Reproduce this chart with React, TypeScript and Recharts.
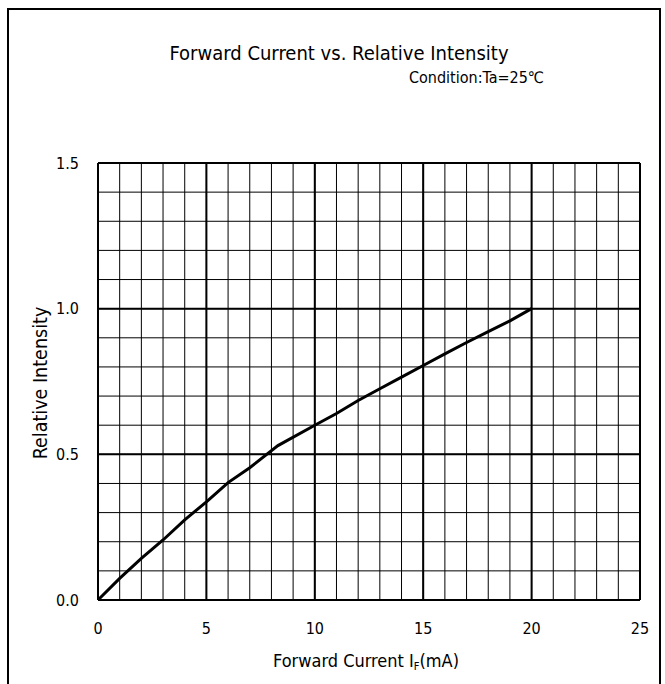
import React from 'react';
import { LineChart, Line, XAxis, YAxis, CartesianGrid, Customized } from 'recharts';

const current = [0, 1, 2, 3, 4, 5, 6, 7, 8.3, 10, 11, 12, 13, 14, 15, 16, 17, 18, 19, 20];
const intensity = [0, 0.074, 0.143, 0.206, 0.275, 0.337, 0.403, 0.454, 0.53, 0.6, 0.64, 0.685, 0.725, 0.765, 0.805, 0.845, 0.884, 0.921, 0.958, 1.0];

const xTicks = [0, 5, 10, 15, 20, 25];
const yTicks = [0, 0.5, 1.0, 1.5];
const xMinor = [0, 1, 2, 3, 4, 5, 6, 7, 8, 9, 10, 11, 12, 13, 14, 15, 16, 17, 18, 19, 20, 21, 22, 23, 24, 25];
const yMinor = [0, 0.1, 0.2, 0.3, 0.4, 0.5, 0.6, 0.7, 0.8, 0.9, 1.0, 1.1, 1.2, 1.3, 1.4, 1.5];

const title = 'Forward Current vs. Relative Intensity';
const condition = 'Condition:Ta=25℃';
const yLabel = 'Relative Intensity';

const data = current.map((c, i) => ({ current: c, intensity: intensity[i] }));

const FONT = "'DejaVu Sans Condensed', 'Liberation Sans Narrow', sans-serif";

const Decor = () => (
  <g fontFamily={FONT} fill="#000">
    <rect x={8} y={9} width={652} height={720} fill="none" stroke="#000" strokeWidth={2} />
    <text x={339} y={60} textAnchor="middle" fontSize={20}>{title}</text>
    <text x={544} y={83} textAnchor="end" fontSize={16}>{condition}</text>
    <text x={366} y={667} textAnchor="middle" fontSize={18}>
      Forward Current I<tspan fontSize={11} dy={3}>F</tspan><tspan dy={-3}>(mA)</tspan>
    </text>
    <text x={47} y={383} textAnchor="middle" fontSize={19.5} transform="rotate(-90 47 383)">{yLabel}</text>
  </g>
);

export default function App() {
  return (
    <div style={{ position: 'absolute', left: 0, top: 0, width: 665, height: 684, background: '#fff' }}>
      <LineChart width={665} height={684} data={data} margin={{ top: 163, right: 25, bottom: 44, left: 38 }}>
        <CartesianGrid stroke="#000" strokeWidth={1} verticalValues={xMinor} horizontalValues={yMinor} />
        <CartesianGrid stroke="#000" strokeWidth={2} verticalValues={xTicks} horizontalValues={yTicks} />
        <XAxis
          dataKey="current"
          type="number"
          domain={[0, 25]}
          ticks={xTicks}
          axisLine={false}
          tickLine={false}
          tickSize={0}
          tickMargin={23}
          height={40}
          tick={{ fill: '#000', fontSize: 16, fontFamily: FONT }}
        />
        <YAxis
          type="number"
          domain={[0, 1.5]}
          ticks={yTicks}
          axisLine={false}
          tickLine={false}
          tickSize={0}
          tickMargin={19}
          width={60}
          tickFormatter={(v: number) => v.toFixed(1)}
          tick={{ fill: '#000', fontSize: 16, fontFamily: FONT }}
        />
        <Line dataKey="intensity" type="linear" stroke="#000" strokeWidth={3} dot={false} isAnimationActive={false} />
        <Customized component={Decor} />
      </LineChart>
    </div>
  );
}
